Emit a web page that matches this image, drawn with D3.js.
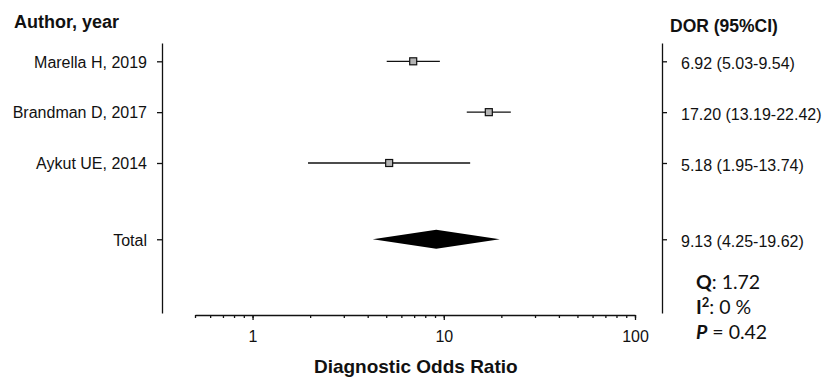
<!DOCTYPE html>
<html>
<head>
<meta charset="utf-8">
<script src="https://cdn.jsdelivr.net/npm/d3@7"></script>
<style>
  html, body { margin: 0; padding: 0; background: #fff; }
  svg { display: block; }
  text { font-family: "Liberation Sans", Arial, sans-serif; fill: #111; }
  .stats text { font-family: Lato, "Liberation Sans", sans-serif; }
</style>
</head>
<body>
<svg id="chart" width="824" height="380"></svg>
<script>
// Study-level diagnostic odds ratios with 95% confidence limits
const studies = ["Marella H, 2019", "Brandman D, 2017", "Aykut UE, 2014"];
const dor     = [6.92, 17.20, 5.18];
const lower   = [5.03, 13.19, 1.95];
const upper   = [9.54, 22.42, 13.74];

// Pooled estimate
const pooledLabel = "Total";
const pooledDor   = 9.13;
const pooledLower = 4.25;
const pooledUpper = 19.62;

// Heterogeneity statistics
const statQ = "1.72";
const statI2 = "0 %";
const statP = "0.42";

// Row positions (the pooled row sits one and a half rows below the last study)
const rowIndex = [0, 1, 2];
const pooledIndex = 3.5;

// Log axis
const xDomain = [0.5, 100];
const xMajorTicks = [1, 10, 100];

const fmt = d => d.toFixed(2);
const ciText = (m, l, u) => `${fmt(m)} (${fmt(l)}-${fmt(u)})`;

const svg = d3.select("#chart");

const x = d3.scaleLog().domain(xDomain).range([195, 635]);
const y = d3.scaleLinear().domain([-0.36, 4.95]).range([43, 313]);

// All decade ticks (minor + major) between the domain limits
const allTicks = [];
for (let p = -1; p <= 2; p++) {
  for (let m = 1; m <= 9; m++) {
    const v = m * Math.pow(10, p);
    if (v >= xDomain[0] - 1e-9 && v <= xDomain[1] + 1e-9) allTicks.push(+v.toPrecision(6));
  }
}

// Bottom log axis: minor ticks first, then labelled major ticks
const axisY = 315;
const gx = svg.append("g").attr("transform", `translate(0,${axisY})`);
gx.call(d3.axisBottom(x).tickValues(allTicks).tickSize(3).tickSizeOuter(0).tickFormat(""));
const gxMajor = svg.append("g").attr("transform", `translate(0,${axisY})`);
gxMajor.call(d3.axisBottom(x).tickValues(xMajorTicks).tickSize(5).tickSizeOuter(0)
  .tickFormat(d3.format("d")).tickPadding(11));
gxMajor.select(".domain").remove();
[gx, gxMajor].forEach(g => {
  g.selectAll("path, line").attr("stroke", "#111").attr("stroke-width", 1.3);
});
gxMajor.selectAll("text")
  .attr("font-family", "Liberation Sans, Arial, sans-serif")
  .attr("font-size", 16).attr("fill", "#111");

// Left axis with study names
const yLabels = new Map(rowIndex.map((r, i) => [r, studies[i]]));
yLabels.set(pooledIndex, pooledLabel);
const gy = svg.append("g").attr("transform", "translate(162,0)");
gy.call(d3.axisLeft(y).tickValues([...rowIndex, pooledIndex]).tickSize(5).tickSizeOuter(0)
  .tickPadding(10).tickFormat(d => yLabels.get(d)));

// Right axis with DOR (95% CI) text
const rLabels = new Map(rowIndex.map((r, i) => [r, ciText(dor[i], lower[i], upper[i])]));
rLabels.set(pooledIndex, ciText(pooledDor, pooledLower, pooledUpper));
const gr = svg.append("g").attr("transform", "translate(662,0)");
gr.call(d3.axisRight(y).tickValues([...rowIndex, pooledIndex]).tickSize(5).tickSizeOuter(0)
  .tickPadding(14).tickFormat(d => rLabels.get(d)));

[gy, gr].forEach(g => {
  g.selectAll("path, line").attr("stroke", "#111").attr("stroke-width", 1.3);
  g.selectAll("text")
    .attr("font-family", "Liberation Sans, Arial, sans-serif")
    .attr("font-size", 16).attr("fill", "#111");
});
gr.selectAll("text").attr("dy", "0.45em");
gy.selectAll("text").attr("dy", "0.36em");

// Confidence interval whiskers
svg.append("g").selectAll("line")
  .data(rowIndex)
  .join("line")
  .attr("x1", (r, i) => x(lower[i]))
  .attr("x2", (r, i) => x(upper[i]))
  .attr("y1", r => y(r))
  .attr("y2", r => y(r))
  .attr("stroke", "#111")
  .attr("stroke-width", 1.3);

// Point estimates
const sq = 7;
svg.append("g").selectAll("rect")
  .data(rowIndex)
  .join("rect")
  .attr("x", (r, i) => x(dor[i]) - sq / 2)
  .attr("y", r => y(r) - sq / 2)
  .attr("width", sq)
  .attr("height", sq)
  .attr("fill", "#b4b4b4")
  .attr("stroke", "#111")
  .attr("stroke-width", 1.2);

// Pooled diamond
const dh = 9.5;
const py = y(pooledIndex);
svg.append("path")
  .attr("d", `M${x(pooledLower)},${py} L${x(pooledDor)},${py - dh} L${x(pooledUpper)},${py} L${x(pooledDor)},${py + dh} Z`)
  .attr("fill", "#000");

// Column headers
svg.append("text").attr("x", 14).attr("y", 28)
  .attr("font-size", 18).attr("font-weight", "bold").text("Author, year");
svg.append("text").attr("x", 670).attr("y", 32)
  .attr("font-size", 17.5).attr("font-weight", "bold").text("DOR (95%CI)");

// Axis title
svg.append("text").attr("x", x(10) - 28).attr("y", 373)
  .attr("text-anchor", "middle")
  .attr("font-size", 19).attr("font-weight", "bold").text("Diagnostic Odds Ratio");

// Heterogeneity block
const stats = svg.append("g").attr("class", "stats");
const sx = 696;
const q = stats.append("text").attr("x", sx).attr("y", 289).attr("font-size", 19.5);
q.append("tspan").attr("font-weight", "bold").text("Q");
q.append("tspan").text(": " + statQ);

const i2 = stats.append("text").attr("x", sx).attr("y", 314).attr("font-size", 19.5);
i2.append("tspan").attr("font-weight", "bold").text("I");
i2.append("tspan").attr("font-weight", "bold").attr("font-size", 13).attr("dy", -7).text("2");
i2.append("tspan").attr("dy", 7).text(": " + statI2);

const p = stats.append("text").attr("x", sx).attr("y", 339).attr("font-size", 19.5);
p.append("tspan").attr("font-weight", "bold").attr("font-style", "italic").text("P");
p.append("tspan").text(" = " + statP);
</script>
</body>
</html>
